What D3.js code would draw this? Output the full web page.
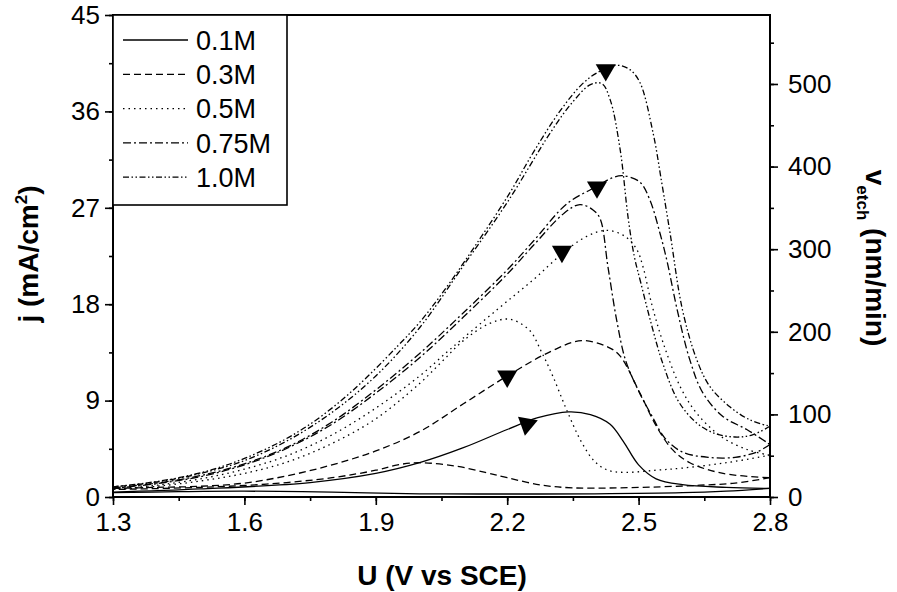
<!DOCTYPE html>
<html><head><meta charset="utf-8">
<script src="https://cdn.jsdelivr.net/npm/d3@7"></script>
<style>
body{margin:0;background:#fff}
svg{display:block}
text{font-family:"Liberation Sans",Arial,Helvetica,sans-serif;fill:#000}
</style>
</head><body>
<svg id="chart" width="897" height="592"></svg>
<script>
// ---------- data ----------
const concentrations = ["0.1M","0.3M","0.5M","0.75M","1.0M"];
const xTicks = [1.3,1.6,1.9,2.2,2.5,2.8];
const yTicks = [0,9,18,27,36,45];
const yRTicks = [0,100,200,300,400,500];

// forward / reverse scans, [U (V vs SCE), j (mA/cm2)]
const fwd01 = [[1.3,0.45],[1.5,0.75],[1.75,1.35],[1.9,2.2],[2.0,3.2],[2.1,4.6],[2.2,6.3],[2.27,7.4],[2.34,7.95],[2.39,7.7],[2.435,6.8],[2.465,5.2],[2.5,3.0],[2.54,1.7],[2.6,1.15],[2.7,0.9],[2.8,0.8]];
const rev01 = [[2.8,0.8],[2.7,0.55],[2.6,0.4],[2.4,0.3],[2.2,0.28],[2.0,0.3],[1.8,0.45],[1.6,0.55],[1.45,0.5],[1.3,0.4]];
const fwd03 = [[1.3,0.8],[1.4,0.9],[1.5,1.0],[1.6,1.3],[1.7,2.0],[1.8,3.0],[1.9,4.3],[2.0,6.1],[2.1,8.7],[2.2,11.3],[2.3,13.6],[2.37,14.6],[2.43,14.0],[2.457,13.2],[2.503,9.7],[2.542,6.5],[2.578,4.4],[2.617,3.2],[2.693,2.2],[2.8,1.8]];
const rev03 = [[2.8,1.8],[2.72,1.3],[2.64,1.1],[2.55,0.95],[2.45,0.85],[2.35,0.85],[2.28,1.1],[2.2,1.8],[2.15,2.3],[2.08,2.9],[2.0,3.2],[1.95,3.0],[1.9,2.5],[1.8,1.8],[1.65,1.2],[1.5,0.9],[1.3,0.7]];
const fwd05 = [[1.3,0.75],[1.4,1.1],[1.5,1.7],[1.6,2.6],[1.7,3.9],[1.8,5.8],[1.9,8.3],[2.0,11.3],[2.07,13.8],[2.18,17.6],[2.26,20.3],[2.325,22.7],[2.38,24.3],[2.428,24.9],[2.47,24.3],[2.496,23.1],[2.51,21.5],[2.53,18.0],[2.556,14.4],[2.595,10.3],[2.633,7.8],[2.69,5.6],[2.75,4.4],[2.8,3.9]];
const rev05 = [[2.8,3.9],[2.7,3.2],[2.6,2.7],[2.54,2.5],[2.47,2.3],[2.43,2.5],[2.4,3.3],[2.37,5.1],[2.336,8.1],[2.305,11.2],[2.28,13.4],[2.25,15.6],[2.205,16.6],[2.16,16.2],[2.1,14.6],[2.05,12.6],[2.0,10.6],[1.9,7.3],[1.8,5.0],[1.7,3.3],[1.6,2.2],[1.5,1.5],[1.4,1.0],[1.3,0.7]];
const fwd075 = [[1.3,0.85],[1.4,1.3],[1.5,2.0],[1.6,3.1],[1.7,4.7],[1.8,7.0],[1.9,10.0],[2.0,13.4],[2.1,17.2],[2.2,21.2],[2.26,23.9],[2.337,27.4],[2.405,29.0],[2.44,29.8],[2.464,30.0],[2.503,29.4],[2.526,27.7],[2.549,24.6],[2.565,22.0],[2.588,17.5],[2.617,12.8],[2.647,9.7],[2.693,7.5],[2.747,6.3],[2.8,4.9]];
const rev075 = [[2.8,4.9],[2.77,4.2],[2.72,3.7],[2.66,3.7],[2.6,4.2],[2.56,5.5],[2.53,7.6],[2.5,9.9],[2.47,12.8],[2.45,16.5],[2.43,21.5],[2.412,26.0],[2.396,26.8],[2.366,27.3],[2.33,26.5],[2.26,23.5],[2.2,20.8],[2.1,16.8],[2.0,13.0],[1.9,9.7],[1.8,6.8],[1.7,4.6],[1.6,3.0],[1.5,1.9],[1.4,1.25],[1.3,0.8]];
const fwd10 = [[1.3,0.95],[1.375,1.3],[1.45,1.8],[1.53,2.6],[1.6,3.6],[1.68,5.1],[1.75,6.8],[1.818,8.9],[1.88,11.2],[1.95,14.1],[2.0,16.3],[2.053,19.1],[2.131,23.7],[2.206,28.4],[2.26,32.2],[2.32,36.0],[2.37,38.5],[2.405,39.6],[2.45,40.3],[2.48,39.9],[2.503,38.7],[2.533,34.0],[2.553,29.3],[2.572,24.6],[2.6,17.5],[2.633,12.8],[2.663,10.3],[2.709,8.4],[2.754,7.2],[2.8,6.6]];
const rev10 = [[2.8,6.6],[2.76,5.8],[2.72,5.6],[2.67,6.0],[2.63,7.0],[2.59,9.0],[2.555,12.5],[2.53,16.0],[2.505,20.0],[2.49,22.5],[2.476,26.1],[2.458,32.4],[2.435,37.1],[2.416,38.6],[2.39,38.5],[2.35,36.9],[2.3,34.1],[2.2,27.5],[2.1,21.6],[2.0,15.8],[1.9,11.3],[1.8,7.9],[1.7,5.3],[1.6,3.4],[1.5,2.2],[1.4,1.4],[1.3,0.95]];

// etch rate markers (right axis)
const markerU = [2.245,2.2,2.325,2.405,2.425];
const markerV = [88,146,297,375,517];

// ---------- drawing ----------
const series = [
  {name:"0.1M", curves:[fwd01,rev01], dash:null},
  {name:"0.3M", curves:[fwd03,rev03], dash:"7,4"},
  {name:"0.5M", curves:[fwd05,rev05], dash:"1.5,4"},
  {name:"0.75M", curves:[fwd075,rev075], dash:"8,3,2,3"},
  {name:"1.0M", curves:[fwd10,rev10], dash:"6,2.5,1.5,2.5,1.5,2.5"}
];

const svg = d3.select("#chart");
const L=113,R=770,T=15,B=497;
const x = d3.scaleLinear().domain([1.3,2.8]).range([L,R]);
const y = d3.scaleLinear().domain([0,45]).range([B,T]);
const yR = d3.scaleLinear().domain([0,583.5]).range([B,T]);

const line = d3.line().x(d=>x(d[0])).y(d=>y(d[1])).curve(d3.curveCatmullRom.alpha(0.5));

const gCurves = svg.append("g");
series.forEach(s=>{
  s.curves.forEach(c=>{
    gCurves.append("path").attr("d",line(c)).attr("fill","none")
      .attr("stroke","#000").attr("stroke-width",1.3)
      .attr("stroke-dasharray",s.dash);
  });
});

// markers
const tri = d3.symbol(d3.symbolTriangle).size(175);
markerU.forEach((u,i)=>{
  const rot = i===0 ? 70 : 180;
  svg.append("path").attr("d",tri())
    .attr("transform",`translate(${x(u)},${yR(markerV[i])}) rotate(${rot})`)
    .attr("fill","#000");
});

// axes
const fs = 26;
function styleAxis(g){
  g.select(".domain").remove();
  g.selectAll("line").attr("stroke","#000").attr("stroke-width",1.6);
  g.selectAll("text").attr("font-size",fs).attr("font-family",'"Liberation Sans",Arial,sans-serif');
}
const xMinor = d3.range(1.3,2.8001,0.15);
svg.append("g").attr("transform",`translate(0,${B})`)
  .call(d3.axisBottom(x).tickValues(xMinor).tickSize(4).tickFormat(""))
  .call(styleAxis);
svg.append("g").attr("transform",`translate(0,${B})`)
  .call(d3.axisBottom(x).tickValues(xTicks).tickSize(8).tickPadding(8).tickFormat(d3.format(".1f")))
  .call(styleAxis);

const yMinor = d3.range(0,45.01,4.5);
svg.append("g").attr("transform",`translate(${L},0)`)
  .call(d3.axisLeft(y).tickValues(yMinor).tickSize(4).tickFormat(""))
  .call(styleAxis);
svg.append("g").attr("transform",`translate(${L},0)`)
  .call(d3.axisLeft(y).tickValues(yTicks).tickSize(8).tickPadding(5).tickFormat(d3.format("d")))
  .call(styleAxis);

const yRMinor = d3.range(0,551,50);
svg.append("g").attr("transform",`translate(${R},0)`)
  .call(d3.axisRight(yR).tickValues(yRMinor).tickSize(4).tickFormat(""))
  .call(styleAxis);
svg.append("g").attr("transform",`translate(${R},0)`)
  .call(d3.axisRight(yR).tickValues(yRTicks).tickSize(8).tickPadding(10).tickFormat(d3.format("d")))
  .call(styleAxis);

// frame
svg.append("rect").attr("x",L).attr("y",T).attr("width",R-L).attr("height",B-T)
  .attr("fill","none").attr("stroke","#000").attr("stroke-width",2);

// legend
const lg = svg.append("g");
lg.append("rect").attr("x",L).attr("y",T).attr("width",174).attr("height",190)
  .attr("fill","#fff").attr("stroke","#000").attr("stroke-width",1.6);
series.forEach((s,i)=>{
  const yy = 40 + i*34.3;
  lg.append("line").attr("x1",123).attr("x2",188).attr("y1",yy).attr("y2",yy)
    .attr("stroke","#000").attr("stroke-width",1.3).attr("stroke-dasharray",s.dash);
  lg.append("text").attr("x",196).attr("y",yy).attr("dy","0.36em")
    .attr("font-size",27).text(s.name);
});

// axis titles
const tfs = 28;
svg.append("text").attr("x",442).attr("y",585).attr("text-anchor","middle")
  .attr("font-size",tfs).attr("font-weight","bold").text("U (V vs SCE)");

const tl = svg.append("text").attr("transform","translate(38,254) rotate(-90)")
  .attr("text-anchor","middle").attr("font-size",tfs).attr("font-weight","bold");
tl.append("tspan").text("j (mA/cm");
tl.append("tspan").attr("font-size",17).attr("dy",-11).text("2");
tl.append("tspan").attr("dy",11).text(")");

const tr = svg.append("text").attr("transform","translate(866,258) rotate(90)")
  .attr("text-anchor","middle").attr("font-size",tfs).attr("font-weight","bold");
tr.append("tspan").text("v");
tr.append("tspan").attr("font-size",17).attr("dy",9).text("etch");
tr.append("tspan").attr("dy",-9).text(" (nm/min)");
</script>
</body></html>
